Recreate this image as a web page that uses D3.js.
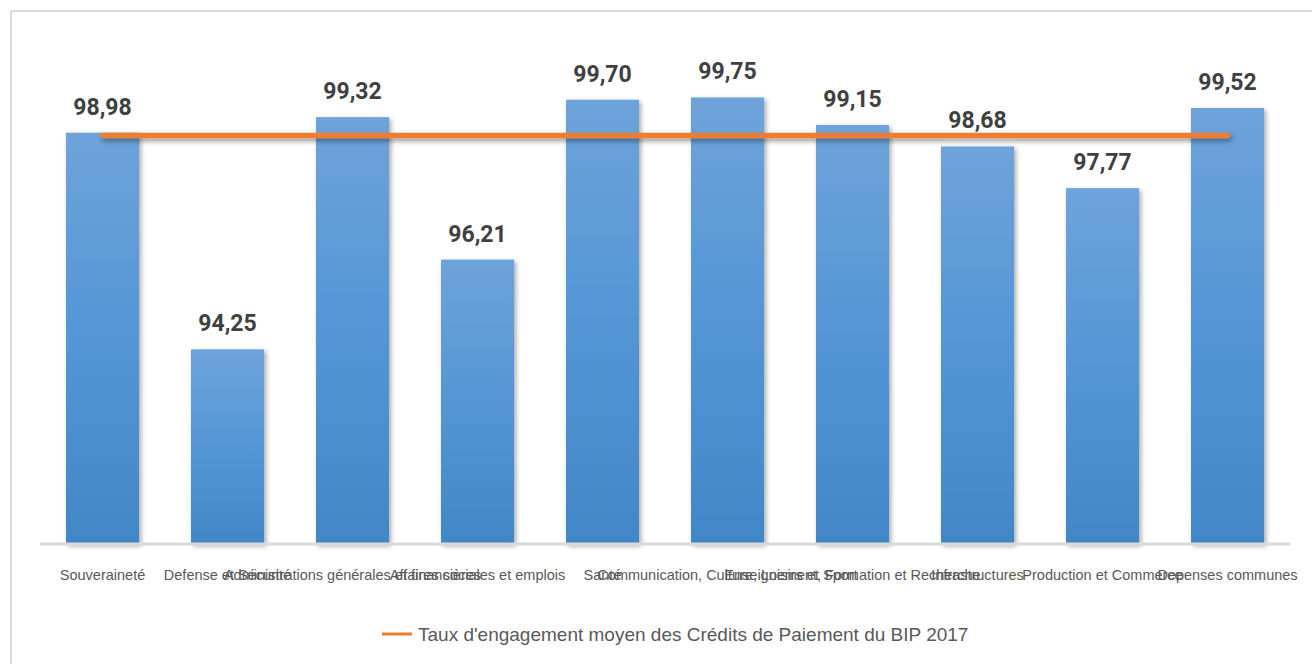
<!DOCTYPE html>
<html><head><meta charset="utf-8">
<script src="https://cdn.jsdelivr.net/npm/d3@7"></script>
<style>
html,body{margin:0;padding:0;background:#fff;}
svg{display:block;}
</style></head>
<body>
<svg id="chart" width="1312" height="664"></svg>
<script>
const categories = ["Souveraineté","Defense et Sécurité","Administrations générales et financières","Affaires sociales et emplois","Santé","Communication, Culture, Loisirs et Sport","Enseignement, Formation et Recherche","Infrastructures","Production et Commerce","Depenses communes"];
const values = [98.98,94.25,99.32,96.21,99.70,99.75,99.15,98.68,97.77,99.52];
const averageRate = [98.92,98.92,98.92,98.92,98.92,98.92,98.92,98.92,98.92,98.92];
const valueLabels = ["98,98","94,25","99,32","96,21","99,70","99,75","99,15","98,68","97,77","99,52"];
const legendLabel = "Taux d'engagement moyen des Crédits de Paiement du BIP 2017";

const svg = d3.select("#chart");
const defs = svg.append("defs");
const grad = defs.append("linearGradient").attr("id","barGrad").attr("x1",0).attr("y1",0).attr("x2",0).attr("y2",1);
grad.append("stop").attr("offset","0%").attr("stop-color","#6EA3DA");
grad.append("stop").attr("offset","50%").attr("stop-color","#5396D6");
grad.append("stop").attr("offset","100%").attr("stop-color","#4187C7");
const sh = defs.append("filter").attr("id","shadow").attr("x","-20%").attr("y","-20%").attr("width","140%").attr("height","140%");
sh.append("feDropShadow").attr("dx",2).attr("dy",2).attr("stdDeviation",2.5).attr("flood-color","#000").attr("flood-opacity",0.35);
const shL = defs.append("filter").attr("id","shadowL").attr("filterUnits","userSpaceOnUse")
  .attr("x",0).attr("y",0).attr("width",1312).attr("height",664);
shL.append("feDropShadow").attr("dx",2).attr("dy",3).attr("stdDeviation",2.5).attr("flood-color","#000").attr("flood-opacity",0.4);

// chart frame
svg.append("path").attr("d","M11,670 L11,11 L1320,11").attr("fill","none").attr("stroke","#D9D9D9").attr("stroke-width",2);

const x = d3.scaleBand().domain(categories).range([40,1290]).paddingInner(0.416).paddingOuter(0.208);
const y = d3.scaleLinear().domain([90,100]).range([544,86]);

// bars
svg.append("g").selectAll("rect").data(categories).join("rect")
  .attr("x",d=>x(d)).attr("width",x.bandwidth())
  .attr("y",(d,i)=>y(values[i])).attr("height",(d,i)=>y(90)-y(values[i]))
  .attr("fill","url(#barGrad)").attr("filter","url(#shadow)");

// axis
const xAxis = d3.axisBottom(x).tickSize(0).tickPadding(26);
const ag = svg.append("g").attr("transform","translate(0,544)").call(xAxis);
ag.select(".domain").attr("stroke","#D9D9D9").attr("stroke-width",3).attr("d","M40,0H1290");
ag.selectAll("text").attr("font-family","'Liberation Sans', Arial, sans-serif").attr("font-size",14.5).attr("fill","#595959");

// average line
const line = d3.line().x((d,i)=>x(categories[i])+x.bandwidth()/2).y(d=>y(d));
svg.append("path").datum(averageRate).attr("d",line)
  .attr("fill","none").attr("stroke","#ED7D31").attr("stroke-width",5.5).attr("stroke-linecap","round")
  .attr("filter","url(#shadowL)");

// value labels
svg.append("g").selectAll("text").data(categories).join("text")
  .attr("x",d=>x(d)+x.bandwidth()/2).attr("y",(d,i)=>y(values[i])-18)
  .attr("text-anchor","middle").attr("font-family","Roboto, sans-serif").attr("font-weight","bold")
  .attr("font-size",23).attr("fill","#404040").text((d,i)=>valueLabels[i]);

// legend
const lg = svg.append("g");
lg.append("line").attr("x1",382).attr("x2",412).attr("y1",634).attr("y2",634).attr("stroke","#ED7D31").attr("stroke-width",3);
lg.append("text").attr("x",418).attr("y",641).attr("font-family","'Liberation Sans', Arial, sans-serif")
  .attr("font-size",19).attr("fill","#595959").text(legendLabel);
</script>
</body></html>
